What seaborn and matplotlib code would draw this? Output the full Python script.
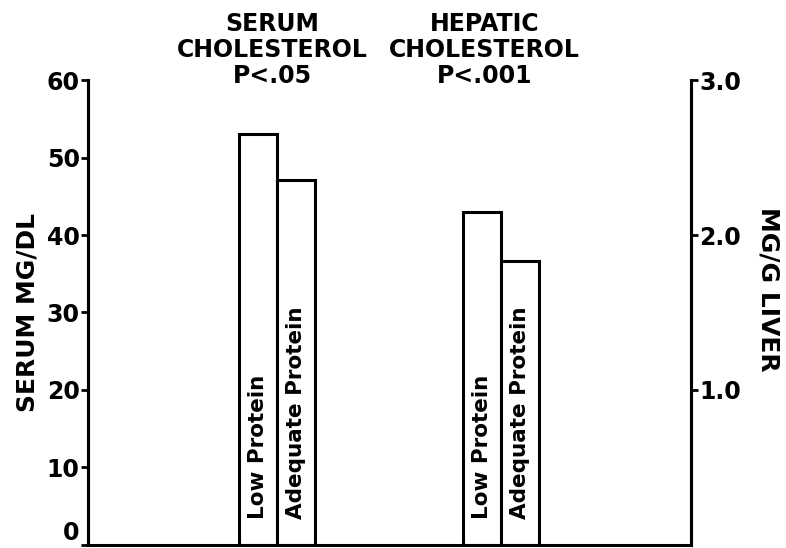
import pandas as pd
import matplotlib
matplotlib.use('Agg')
import matplotlib.pyplot as plt
import matplotlib.transforms as mtransforms
import seaborn as sns

# values
groups = ['SERUM\nCHOLESTEROL\nP<.05', 'HEPATIC\nCHOLESTEROL\nP<.001']
diets = ['Low Protein', 'Adequate Protein']
serum_mg_dl = [53.0, 47.1]        # left axis
hepatic_mg_g = [2.15, 1.83]       # right axis
left_ticks = [0, 10, 20, 30, 40, 50, 60]
right_ticks = [1.0, 2.0, 3.0]

# right axis 0-3 shares the frame with left axis 0-60
scale = 60 / 3.0

df = pd.DataFrame({
    'group': [groups[0]] * 2 + [groups[1]] * 2,
    'diet': diets * 2,
    'value': serum_mg_dl + [v * scale for v in hepatic_mg_g],
})

sns.set_style('white')
plt.rcParams['font.family'] = ['DejaVu Sans']
plt.rcParams.update({'text.color': 'black', 'axes.labelcolor': 'black',
                     'xtick.color': 'black', 'ytick.color': 'black'})

fig = plt.figure(figsize=(7.86, 5.48), dpi=100)
ax = fig.add_axes([0.112, 0.0055, 0.767, 0.8485])

sns.barplot(data=df, x='group', y='value', hue='diet', hue_order=diets,
            width=0.34, gap=0, palette=['white', 'white'], edgecolor='black',
            linewidth=2.2, legend=False, ax=ax)

ax.set_xlim(-0.844, 1.848)
ax.set_ylim(0, 60)
ax.set_yticks(left_ticks)
ax.set_yticklabels([str(t) for t in left_ticks], fontsize=17, fontweight='bold')
ax.get_yticklabels()[0].set_va('bottom')   # the 0 sits on the baseline
ax.set_xticks([])
ax.set_xlabel('')
ax.set_ylabel('SERUM MG/DL', fontsize=18, fontweight='bold', labelpad=5)
ax.tick_params(axis='y', direction='out', length=5, width=2, pad=1, left=True)

ax2 = ax.twinx()
ax2.set_ylim(0, 3)
ax2.set_yticks(right_ticks)
ax2.set_yticklabels([f'{t:.1f}' for t in right_ticks], fontsize=17, fontweight='bold')
ax2.set_ylabel('MG/G LIVER', fontsize=18, fontweight='bold', rotation=270, labelpad=28)
ax2.yaxis.set_label_coords(1.148, 0.55)
ax2.tick_params(axis='y', direction='out', length=5, width=2, pad=1, right=True)

for a in (ax, ax2):
    a.spines['top'].set_visible(False)
    for s in ('left', 'right', 'bottom'):
        a.spines[s].set_linewidth(2.2)
        a.spines[s].set_color('black')
ax2.spines['bottom'].set_visible(False)

# labels written up the inside of each bar
for container, label in zip(ax.containers, diets):
    for bar in container:
        ax.text(bar.get_x() + bar.get_width() / 2, 3.4, label, rotation=90,
                ha='center', va='bottom', fontsize=15.5, fontweight='bold')

# group headings above the bars
trans = mtransforms.blended_transform_factory(ax.transData, fig.transFigure)
for i, (g, dx) in enumerate(zip(groups, [-0.02, -0.075])):
    ax.text(i + dx, 0.978, g, transform=trans, ha='center', va='top',
            fontsize=17, fontweight='bold', linespacing=1.1)

fig.savefig('out.png', dpi=100)
